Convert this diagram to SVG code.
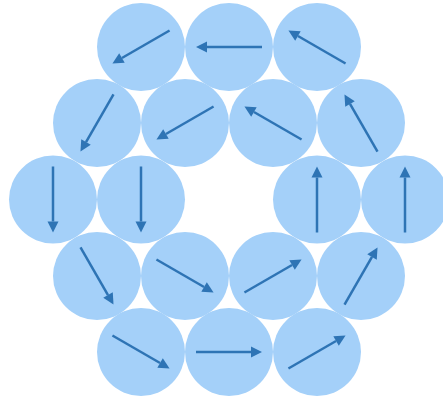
<svg xmlns="http://www.w3.org/2000/svg" width="443" height="402" viewBox="0 0 443 402">
<style>
.c{fill:#a4d0f9;}
.a{stroke:#2e74b5;stroke-width:2.5;fill:none;marker-end:url(#ah);}
</style>
<defs>
<marker id="ah" markerUnits="userSpaceOnUse" markerWidth="12" markerHeight="12" refX="0" refY="6" orient="auto" overflow="visible">
<path d="M0,0.5 L11,6 L0,11.5 z" fill="#2e74b5"/>
</marker>
</defs>
<rect width="443" height="402" fill="#ffffff"/>
<g id="n1" transform="translate(141,47)"><circle class="c" r="44"/><line class="a" x1="-33" y1="0" x2="22" y2="0" transform="rotate(150)"/></g>
<g id="n2" transform="translate(229,47)"><circle class="c" r="44"/><line class="a" x1="-33" y1="0" x2="22" y2="0" transform="rotate(180)"/></g>
<g id="n3" transform="translate(317,47)"><circle class="c" r="44"/><line class="a" x1="-33" y1="0" x2="22" y2="0" transform="rotate(210)"/></g>
<g id="n4" transform="translate(97,123)"><circle class="c" r="44"/><line class="a" x1="-33" y1="0" x2="22" y2="0" transform="rotate(120)"/></g>
<g id="n5" transform="translate(185,123)"><circle class="c" r="44"/><line class="a" x1="-33" y1="0" x2="22" y2="0" transform="rotate(150)"/></g>
<g id="n6" transform="translate(273,123)"><circle class="c" r="44"/><line class="a" x1="-33" y1="0" x2="22" y2="0" transform="rotate(210)"/></g>
<g id="n7" transform="translate(361,123)"><circle class="c" r="44"/><line class="a" x1="-33" y1="0" x2="22" y2="0" transform="rotate(240)"/></g>
<g id="n8" transform="translate(53,199.5)"><circle class="c" r="44"/><line class="a" x1="-33" y1="0" x2="22" y2="0" transform="rotate(90)"/></g>
<g id="n9" transform="translate(141,199.5)"><circle class="c" r="44"/><line class="a" x1="-33" y1="0" x2="22" y2="0" transform="rotate(90)"/></g>
<g id="n10" transform="translate(317,199.5)"><circle class="c" r="44"/><line class="a" x1="-33" y1="0" x2="22" y2="0" transform="rotate(270)"/></g>
<g id="n11" transform="translate(405,199.5)"><circle class="c" r="44"/><line class="a" x1="-33" y1="0" x2="22" y2="0" transform="rotate(270)"/></g>
<g id="n12" transform="translate(97,276)"><circle class="c" r="44"/><line class="a" x1="-33" y1="0" x2="22" y2="0" transform="rotate(60)"/></g>
<g id="n13" transform="translate(185,276)"><circle class="c" r="44"/><line class="a" x1="-33" y1="0" x2="22" y2="0" transform="rotate(30)"/></g>
<g id="n14" transform="translate(273,276)"><circle class="c" r="44"/><line class="a" x1="-33" y1="0" x2="22" y2="0" transform="rotate(330)"/></g>
<g id="n15" transform="translate(361,276)"><circle class="c" r="44"/><line class="a" x1="-33" y1="0" x2="22" y2="0" transform="rotate(300)"/></g>
<g id="n16" transform="translate(141,352)"><circle class="c" r="44"/><line class="a" x1="-33" y1="0" x2="22" y2="0" transform="rotate(30)"/></g>
<g id="n17" transform="translate(229,352)"><circle class="c" r="44"/><line class="a" x1="-33" y1="0" x2="22" y2="0" transform="rotate(0)"/></g>
<g id="n18" transform="translate(317,352)"><circle class="c" r="44"/><line class="a" x1="-33" y1="0" x2="22" y2="0" transform="rotate(330)"/></g>
</svg>
